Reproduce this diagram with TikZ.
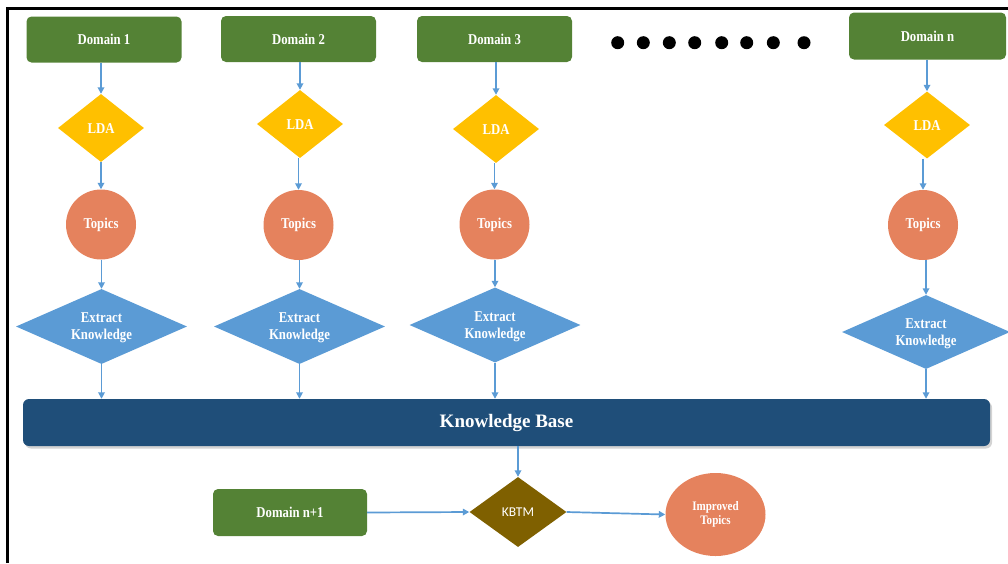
\documentclass[tikz,border=0pt]{standalone}
\usepackage{fontspec}
\setmainfont{Liberation Serif}
\newfontfamily\nfont[FakeStretch=0.85]{Liberation Serif}
\newfontfamily\cfont{Carlito}
\usetikzlibrary{shapes.geometric,arrows.meta,shadows}
\definecolor{dgreen}{HTML}{548235}
\definecolor{dyellow}{HTML}{FFC000}
\definecolor{dorange}{HTML}{E5825D}
\definecolor{dblue}{HTML}{5B9BD5}
\definecolor{kbblue}{HTML}{1F4E79}
\definecolor{dbrown}{HTML}{7F6000}
\tikzset{
  x=1pt, y=-1pt,
  lbl/.style={text=white, inner sep=0pt, font=\nfont\bfseries\fontsize{15}{16.7}\selectfont, align=center},
  dombox/.style={fill=dgreen, rounded corners=5pt, minimum width=155pt, minimum height=46pt, inner sep=0pt, lbl},
  ldashape/.style={diamond, fill=dyellow, minimum width=86pt, minimum height=68pt, inner sep=0pt},
  topic/.style={circle, fill=dorange, minimum size=70pt, inner sep=0pt, lbl},
  ekshape/.style={diamond, fill=dblue, minimum width=171pt, minimum height=75pt, inner sep=0pt},
  arr/.style={draw=dblue, line width=1.7pt, -{Triangle[length=6.5pt,width=6.5pt]}},
}
\begin{document}
\begin{tikzpicture}
\useasboundingbox (0,0) rectangle (1008,563);
% frame
\draw[line width=3pt] (7.5,563) -- (7.5,8) -- (1008,8);

% column 1
\node[dombox] (dom1) at (104,39.5) {Domain 1};
\node[ldashape] (lda1) at (101,128) {};
\node[lbl] (ldat1) at (101,129) {LDA};
\node[topic] (top1) at (101,224.5) {Topics};
\node[ekshape] (ek1) at (101.5,326.5) {};
\node[lbl] (ekt1) at (101.5,328) {Extract\\Knowledge};

% column 2
\node[dombox] (dom2) at (298.5,39) {Domain 2};
\node[ldashape] (lda2) at (300,124) {};
\node[lbl] (ldat2) at (300,125) {LDA};
\node[topic] (top2) at (298.5,225) {Topics};
\node[ekshape] (ek2) at (299.5,326.5) {};
\node[lbl] (ekt2) at (299.5,328) {Extract\\Knowledge};

% column 3
\node[dombox] (dom3) at (494.5,39) {Domain 3};
\node[ldashape] (lda3) at (496,129) {};
\node[lbl] (ldat3) at (496,130) {LDA};
\node[topic] (top3) at (494.5,224.5) {Topics};
\node[ekshape] (ek3) at (495,325) {};
\node[lbl] (ekt3) at (495,326.5) {Extract\\Knowledge};

% dots
\foreach \x in {617.7,643.3,669.3,694.7,721.7,746.7,773.3,804}
  \fill (\x,42.7) circle (6.5pt);

% column n
\node[dombox, minimum width=157pt, minimum height=47pt] (domn) at (927.5,36) {Domain n};
\node[ldashape, minimum height=67pt] (ldan) at (927,125) {};
\node[lbl] (ldatn) at (927,126) {LDA};
\node[topic] (topn) at (923,225) {Topics};
\node[ekshape, minimum width=168pt, minimum height=74pt] (ekn) at (926,332) {};
\node[lbl] (ektn) at (926,333.5) {Extract\\Knowledge};

% knowledge base
\node[fill=kbblue, rounded corners=6pt, minimum width=967pt, minimum height=47pt, inner sep=0pt,
      drop shadow={shadow xshift=2pt, shadow yshift=-2.5pt, opacity=0.35},
      text=white, font=\bfseries\fontsize{19}{21}\selectfont] (kb) at (506.5,422.5) {Knowledge Base};

% bottom row
\node[dombox, minimum width=154pt, minimum height=47pt] (dn1) at (290,512.5) {Domain n+1};
\node[diamond, fill=dbrown, minimum width=97pt, minimum height=70pt, inner sep=0pt] (kbtm) at (518,512) {};
\node[text=white, inner sep=0pt, font=\cfont\fontsize{13.5}{15}\selectfont] (kbtmt) at (kbtm) {KBTM};
\node[ellipse, fill=dorange, minimum width=100pt, minimum height=83pt, inner sep=0pt,
      lbl, font=\nfont\bfseries\fontsize{13}{13.3}\selectfont] (imp) at (715.5,514.5) {Improved\\Topics};

% arrows
\foreach \c in {1,2,3,n} {
  \draw[arr] (dom\c.south -| lda\c.north) -- (lda\c.north);
  \draw[arr] (lda\c.south -| top\c.north) -- (top\c.north);
  \draw[arr] (top\c.south -| ek\c.north) -- (ek\c.north);
  \draw[arr] (ek\c.south) -- (ek\c.south |- kb.north);
}
\draw[arr] (kb.south -| kbtm.north) -- (kbtm.north);
\draw[arr] (dn1.east) -- (kbtm.west);
\draw[arr] (kbtm.east) -- (imp.west);
\end{tikzpicture}
\end{document}
